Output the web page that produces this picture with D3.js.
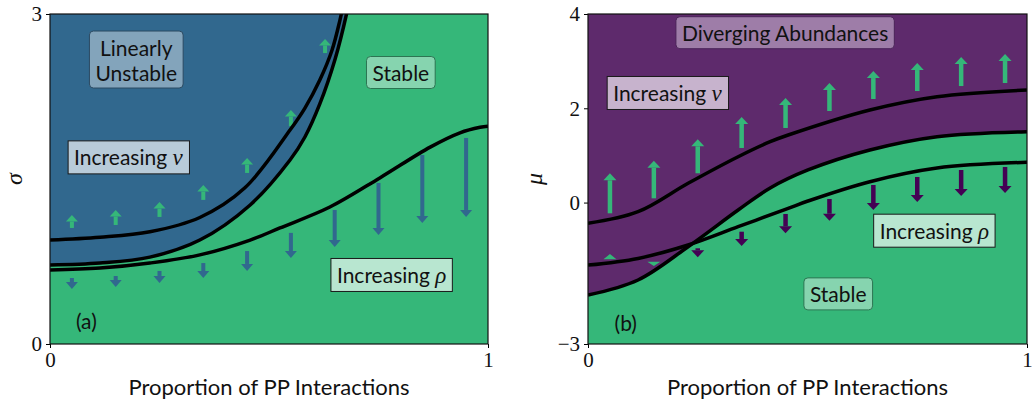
<!DOCTYPE html>
<html>
<head>
<meta charset="utf-8">
<script src="https://cdn.jsdelivr.net/npm/d3@7"></script>
<style>
  body { margin: 0; background: #fff; }
  svg text { font-family: Lato, "Open Sans", sans-serif; }
</style>
</head>
<body>
<div id="chart"></div>
<script>
(function () {

  // ---- panel (a): sigma vs proportion of PP interactions ----
  const sigmaInner = [[0, 0.945], [0.114, 0.97], [0.228, 1.02], [0.342, 1.15], [0.445, 1.42],
    [0.548, 1.945], [0.582, 2.145], [0.616, 2.40], [0.644, 2.673], [0.662, 2.945], [0.669, 3.073]]
  const sigmaOuter = [[0, 0.718], [0.114, 0.736], [0.228, 0.79], [0.342, 0.945], [0.457, 1.264],
    [0.548, 1.673], [0.582, 1.882], [0.616, 2.182], [0.651, 2.591], [0.678, 3.018], [0.682, 3.1]]
  const sigmaRho = [[0, 0.673], [0.114, 0.69], [0.228, 0.736], [0.342, 0.81], [0.457, 0.945],
    [0.525, 1.055], [0.639, 1.245], [0.753, 1.51], [0.868, 1.79], [0.936, 1.92], [0.982, 1.97], [1, 1.98]]

  const nuArrowXA = [0.05, 0.15, 0.25, 0.35, 0.45, 0.55, 0.628]
  const nuTailA = [1.055, 1.082, 1.155, 1.31, 1.555, 1.98, 2.645]
  const nuTipA = [1.173, 1.218, 1.29, 1.445, 1.69, 2.127, 2.773]

  const rhoArrowXA = [0.05, 0.15, 0.25, 0.35, 0.45, 0.55, 0.65, 0.75, 0.85, 0.95]
  const rhoTailA = [0.60, 0.618, 0.664, 0.736, 0.845, 1.01, 1.218, 1.464, 1.718, 1.873]
  const rhoTipA = [0.50, 0.518, 0.555, 0.60, 0.664, 0.782, 0.882, 0.99, 1.10, 1.155]

  // ---- panel (b): mu vs proportion of PP interactions ----
  const muNu = [[0, -0.44], [0.114, -0.194], [0.228, 0.409], [0.342, 0.973], [0.415, 1.291],
    [0.456, 1.433], [0.642, 1.964], [0.795, 2.246], [1, 2.388]]
  const muStable = [[0, -1.961], [0.114, -1.642], [0.228, -0.936], [0.342, -0.158], [0.415, 0.309],
    [0.501, 0.691], [0.642, 1.115], [0.795, 1.397], [1, 1.503]]
  const muRho = [[0, -1.327], [0.114, -1.185], [0.228, -0.9], [0.342, -0.512], [0.456, -0.122],
    [0.501, 0.033], [0.642, 0.443], [0.795, 0.733], [1, 0.854]]

  const nuArrowXB = [0.05, 0.15, 0.25, 0.35, 0.45, 0.55, 0.65, 0.75, 0.85, 0.95]
  const nuTailB = [-0.228, 0.09, 0.621, 1.158, 1.582, 1.942, 2.197, 2.366, 2.472, 2.536]
  const nuTipB = [0.621, 0.888, 1.342, 1.815, 2.218, 2.536, 2.79, 2.96, 3.088, 3.151]

  const smallArrowXB = [0.05, 0.15]
  const smallTailB = [-1.203, -1.254]
  const smallTipB = [-1.091, -1.345]

  const rhoArrowXB = [0.25, 0.35, 0.45, 0.55, 0.65, 0.75, 0.85, 0.95]
  const rhoTailB = [-0.97, -0.618, -0.242, 0.076, 0.373, 0.543, 0.691, 0.755]
  const rhoTipB = [-1.161, -0.921, -0.652, -0.385, -0.158, 0.012, 0.14, 0.203]

  const ticksYA = [0, 3]
  const ticksYB = [-3, 0, 2, 4]
  const ticksX = [0, 1]

  const blue = '#31688e'
  const green = '#35b779'
  const purple = '#5e2a6c'
  const darkPurple = '#440154'

  const serif = '"Liberation Serif", "DejaVu Serif", serif'
  const smooth = d3.curveCatmullRom.alpha(0.5)

  const svg = d3.select('#chart').append('svg')
    .attr('width', 1033)
    .attr('height', 407)

  function panel (id, left, right, yDomain, yTicks, bg, yLabel, yLabelX) {
    const top = 14
    const bottom = 344
    const x = d3.scaleLinear().domain([0, 1]).range([left, right])
    const y = d3.scaleLinear().domain(yDomain).range([bottom, top])

    svg.append('clipPath').attr('id', 'clip-' + id)
      .append('rect')
      .attr('x', left).attr('y', top)
      .attr('width', right - left).attr('height', bottom - top)

    svg.append('rect')
      .attr('x', left).attr('y', top)
      .attr('width', right - left).attr('height', bottom - top)
      .attr('fill', bg)

    const g = svg.append('g').attr('clip-path', 'url(#clip-' + id + ')')
    const over = svg.append('g')

    const fmt = d => d < 0 ? '\u2212' + Math.abs(d) : String(d)

    const yAxis = svg.append('g')
      .attr('transform', 'translate(' + left + ',0)')
      .call(d3.axisLeft(y).tickValues(yTicks).tickSize(4).tickPadding(4).tickFormat(fmt))
    const xAxis = svg.append('g')
      .attr('transform', 'translate(0,' + bottom + ')')
      .call(d3.axisBottom(x).tickValues(ticksX).tickSize(4).tickPadding(4).tickFormat(fmt))
    ;[yAxis, xAxis].forEach(a => {
      a.select('.domain').remove()
      a.selectAll('text')
        .attr('font-size', 21)
        .attr('fill', '#111')
        .style('font-family', serif)
    })

    svg.append('text')
      .attr('x', (left + right) / 2)
      .attr('y', 395)
      .attr('text-anchor', 'middle')
      .attr('font-size', 22)
      .attr('fill', '#111')
      .text('Proportion of PP Interactions')

    svg.append('text')
      .attr('transform', 'translate(' + yLabelX + ',' + ((top + bottom) / 2) + ') rotate(-90)')
      .attr('text-anchor', 'middle')
      .attr('font-size', 24)
      .attr('font-style', 'italic')
      .attr('fill', '#111')
      .style('font-family', serif)
      .text(yLabel)

    return { x, y, g, over, left, right, top, bottom }
  }

  function boundary (p, pts) {
    const line = d3.line()
      .x(d => p.x(d[0]))
      .y(d => p.y(d[1]))
      .curve(smooth)
    p.g.append('path')
      .datum(pts)
      .attr('d', line)
      .attr('fill', 'none')
      .attr('stroke', '#000')
      .attr('stroke-width', 3.5)
  }

  function arrows (p, xs, tails, tips, color, shaftW, headW, headL) {
    xs.forEach((xv, i) => {
      const px = p.x(xv)
      const y0 = p.y(tails[i])
      const y1 = p.y(tips[i])
      const dir = y1 > y0 ? 1 : -1
      const len = Math.abs(y1 - y0)
      const hl = Math.min(headL, len)
      const base = y1 - dir * hl
      if (len > hl) {
        p.g.append('rect')
          .attr('x', px - shaftW / 2)
          .attr('y', Math.min(y0, base))
          .attr('width', shaftW)
          .attr('height', Math.abs(base - y0))
          .attr('fill', color)
      }
      p.g.append('path')
        .attr('d', 'M' + (px - headW / 2) + ',' + base + 'L' + (px + headW / 2) + ',' + base + 'L' + px + ',' + y1 + 'Z')
        .attr('fill', color)
    })
  }

  // lines: array of lines, each an array of [text, isMath]
  function label (p, xv, yv, lines, box) {
    const cx = p.x(xv)
    const cy = p.y(yv)
    const lh = 25
    const t = p.over.append('text')
      .attr('text-anchor', 'middle')
      .attr('font-size', 21)
      .attr('fill', '#111')
    lines.forEach((line, i) => {
      const ts = t.append('tspan')
        .attr('x', cx)
        .attr('y', cy + (i - (lines.length - 1) / 2) * lh + 7.5)
      line.forEach(seg => {
        const s = ts.append('tspan').text(seg[0])
        if (seg[1]) {
          s.attr('font-style', 'italic')
            .style('font-family', serif)
            .attr('font-size', 23)
        }
      })
    })
    if (box) {
      const bb = t.node().getBBox()
      p.over.insert('rect', () => t.node())
        .attr('x', bb.x - 6)
        .attr('y', bb.y - 3.5)
        .attr('width', bb.width + 12)
        .attr('height', bb.height + 7)
        .attr('rx', box.rx)
        .attr('fill', box.fill)
        .attr('stroke', box.stroke)
        .attr('stroke-width', 1)
    }
  }

  function frame (p) {
    svg.append('rect')
      .attr('x', p.left).attr('y', p.top)
      .attr('width', p.right - p.left).attr('height', p.bottom - p.top)
      .attr('fill', 'none')
      .attr('stroke', '#111')
      .attr('stroke-width', 1.2)
  }

  // ---------- panel (a) ----------
  const a = panel('a', 50, 488, [0, 3], ticksYA, green, '\u03c3', 22)

  a.g.append('path')
    .datum(sigmaOuter)
    .attr('d', d3.area()
      .x(d => a.x(d[0]))
      .y0(a.y(3.2))
      .y1(d => a.y(d[1]))
      .curve(smooth))
    .attr('fill', blue)

  arrows(a, nuArrowXA, nuTailA, nuTipA, green, 4, 12, 6.5)
  arrows(a, rhoArrowXA, rhoTailA, rhoTipA, blue, 4, 12, 7)

  boundary(a, sigmaInner)
  boundary(a, sigmaOuter)
  boundary(a, sigmaRho)

  label(a, 0.197, 2.577, [[['Linearly']], [['Unstable']]], { rx: 4, fill: '#83a4bb', stroke: '#2b4a62' })
  label(a, 0.179, 1.692, [[['Increasing '], ['\u03bd', true]]], { rx: 0, fill: '#b8cbd9', stroke: '#1a1a1a' })
  label(a, 0.801, 2.459, [[['Stable']]], { rx: 4, fill: '#86d4af', stroke: '#2c7552' })
  label(a, 0.78, 0.623, [[['Increasing '], ['\u03c1', true]]], { rx: 0, fill: '#b8e6d0', stroke: '#1a1a1a' })
  label(a, 0.083, 0.205, [[['(a)']]], null)
  frame(a)

  // ---------- panel (b) ----------
  const b = panel('b', 588, 1027, [-3, 4], ticksYB, purple, '\u03bc', 542)

  b.g.append('path')
    .datum(muStable)
    .attr('d', d3.area()
      .x(d => b.x(d[0]))
      .y0(b.y(-3.2))
      .y1(d => b.y(d[1]))
      .curve(smooth))
    .attr('fill', green)

  arrows(b, nuArrowXB, nuTailB, nuTipB, green, 4.5, 13, 7)
  arrows(b, smallArrowXB, smallTailB, smallTipB, green, 4.5, 13, 7)
  arrows(b, rhoArrowXB, rhoTailB, rhoTipB, darkPurple, 4.5, 13, 7)

  boundary(b, muNu)
  boundary(b, muStable)
  boundary(b, muRho)

  label(b, 0.449, 3.582, [[['Diverging Abundances']]], { rx: 4, fill: '#9e7da8', stroke: '#4a2358' })
  label(b, 0.181, 2.314, [[['Increasing '], ['\u03bd', true]]], { rx: 0, fill: '#c7b3cd', stroke: '#1a1a1a' })
  label(b, 0.789, -0.607, [[['Increasing '], ['\u03c1', true]]], { rx: 0, fill: '#b8e6d0', stroke: '#1a1a1a' })
  label(b, 0.57, -1.958, [[['Stable']]], { rx: 4, fill: '#86d4af', stroke: '#2c7552' })
  label(b, 0.086, -2.565, [[['(b)']]], null)
  frame(b)

})();
</script>
</body>
</html>
